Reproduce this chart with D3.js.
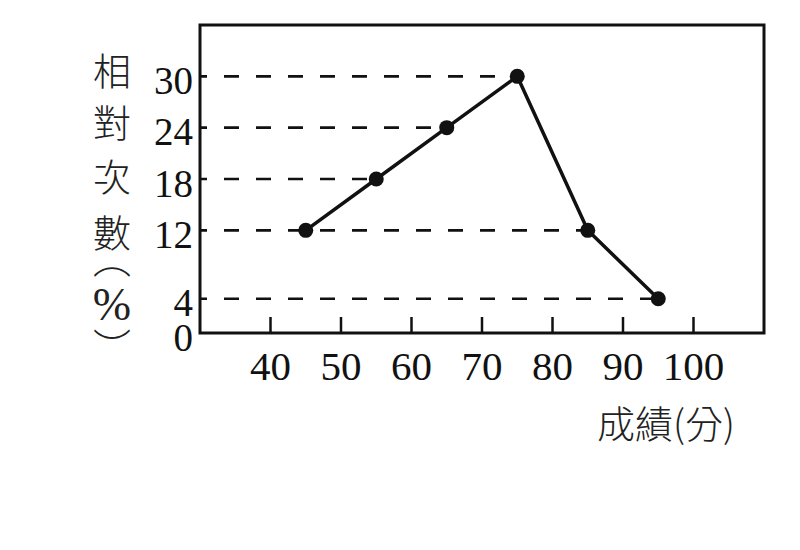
<!DOCTYPE html>
<html>
<head>
<meta charset="utf-8">
<script src="https://cdn.jsdelivr.net/npm/d3@7"></script>
<style>
  html, body { margin: 0; padding: 0; background: #fff; }
</style>
</head>
<body>
<svg id="chart" width="800" height="550"></svg>
<script>
// ---- data ----
const scores = [45, 55, 65, 75, 85, 95];
const relFreq = [12, 18, 24, 30, 12, 4];
const xTicks = [40, 50, 60, 70, 80, 90, 100];
const yTicks = [0, 4, 12, 18, 24, 30];
const yTitleChars = ["相", "對", "次", "數", "︵", "%", "︶"];
const xTitle = "成績(分)";

(function () {
const svg = d3.select("#chart");
const mLeft = 200, mRight = 764, mTop = 25, mBottom = 333;

const x = d3.scaleLinear().domain([30, 110]).range([mLeft, mRight]);
const y = d3.scaleLinear().domain([0, 36]).range([mBottom, mTop]);

const serif = "'Liberation Serif', 'Times New Roman', serif";
const cjk = "'Noto Sans CJK TC', 'Noto Sans CJK SC', sans-serif";

// dashed reference lines
const dashRows = yTicks.filter(v => v > 0).map(v => {
  const xs = scores.filter((s, i) => relFreq[i] === v);
  return { v, xEnd: d3.max(xs) };
});
svg.append("g").selectAll("line").data(dashRows).join("line")
  .attr("x1", mLeft).attr("x2", d => x(d.xEnd))
  .attr("y1", d => y(d.v)).attr("y2", d => y(d.v))
  .attr("stroke", "#111").attr("stroke-width", 2.6)
  .attr("stroke-dasharray", "15,17").attr("stroke-dashoffset", 8);

// x ticks (inside, upward)
svg.append("g").selectAll("line").data(xTicks).join("line")
  .attr("x1", d => x(d)).attr("x2", d => x(d))
  .attr("y1", mBottom).attr("y2", mBottom - 16)
  .attr("stroke", "#111").attr("stroke-width", 2.5);

// frame
svg.append("rect")
  .attr("x", mLeft).attr("y", mTop)
  .attr("width", mRight - mLeft).attr("height", mBottom - mTop)
  .attr("fill", "none").attr("stroke", "#111").attr("stroke-width", 3);

// x tick labels
svg.append("g").selectAll("text").data(xTicks).join("text")
  .attr("x", d => x(d)).attr("y", 380)
  .attr("text-anchor", "middle")
  .attr("font-family", serif).attr("font-size", 41).attr("fill", "#111")
  .text(d => d);

// y tick labels
svg.append("g").selectAll("text").data(yTicks).join("text")
  .attr("x", 193).attr("y", d => y(d) + 4)
  .attr("text-anchor", "end").attr("dominant-baseline", "central")
  .attr("font-family", serif).attr("font-size", 39).attr("fill", "#111")
  .text(d => d);

// line
const pts = scores.map((s, i) => [s, relFreq[i]]);
svg.append("path").datum(pts)
  .attr("d", d3.line().x(d => x(d[0])).y(d => y(d[1])))
  .attr("fill", "none").attr("stroke", "#111").attr("stroke-width", 3.5)
  .attr("stroke-linejoin", "round");

// points
svg.append("g").selectAll("circle").data(pts).join("circle")
  .attr("cx", d => x(d[0])).attr("cy", d => y(d[1])).attr("r", 7.5)
  .attr("fill", "#111");

// y title (vertical, one text element)
const yTitleY = [68, 120, 174, 230, 256, 304, 344];
const yt = svg.append("text")
  .attr("text-anchor", "middle").attr("dominant-baseline", "central")
  .attr("font-family", cjk).attr("font-size", 38).attr("font-weight", 300).attr("fill", "#222");
yt.selectAll("tspan").data(yTitleChars).join("tspan")
  .attr("x", 112).attr("y", (d, i) => yTitleY[i])
  .attr("dominant-baseline", "central")
  .attr("font-family", d => d === "%" ? serif : cjk)
  .attr("font-size", d => d === "%" ? 46 : 38)
  .text(d => d);

// x title
svg.append("text")
  .attr("x", 666).attr("y", 421)
  .attr("text-anchor", "middle").attr("dominant-baseline", "central")
  .attr("font-family", cjk).attr("font-size", 38).attr("font-weight", 300).attr("fill", "#222")
  .text(xTitle);
})();
</script>
</body>
</html>
